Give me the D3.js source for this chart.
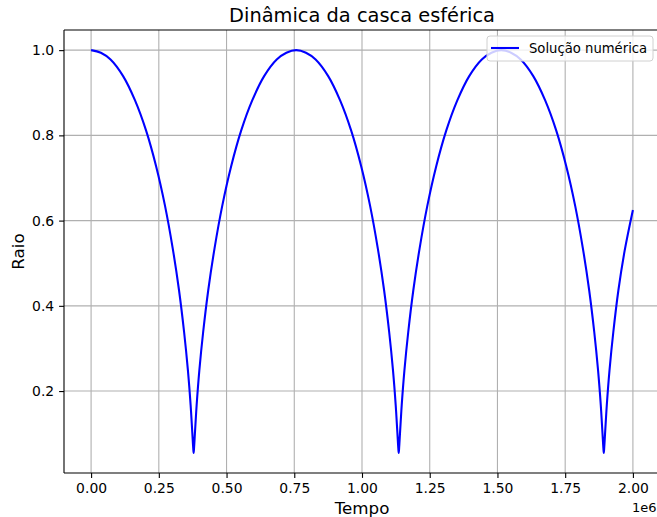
<!DOCTYPE html>
<html><head><meta charset="utf-8">
<script src="https://cdn.jsdelivr.net/npm/d3@7"></script>
<style>
html,body{margin:0;padding:0;background:#fff;overflow:hidden;}
svg{display:block;font-family:"DejaVu Sans",sans-serif;}
</style></head>
<body>
<svg id="chart" width="657" height="517"></svg>
<script>
// Time values in units of 1e6 (offset label "1e6" as in the original)
const tempo = [
  0.0000,0.0361,0.0718,0.1182,0.1622,0.2031,0.2402,0.2731,0.3013,0.3247,0.3434,0.3575,0.3674,0.3738,0.3770,0.3785,
  0.3800,0.3832,0.3896,0.3995,0.4136,0.4323,0.4557,0.4839,0.5168,0.5539,0.5948,0.6388,0.6852,0.7209,0.7570,
  0.7931,0.8288,0.8752,0.9192,0.9601,0.9972,1.0301,1.0583,1.0817,1.1004,1.1145,1.1244,1.1308,1.1340,1.1355,
  1.1370,1.1402,1.1466,1.1565,1.1706,1.1893,1.2127,1.2409,1.2738,1.3109,1.3518,1.3958,1.4422,1.4779,1.5140,
  1.5501,1.5858,1.6322,1.6762,1.7171,1.7542,1.7871,1.8153,1.8387,1.8574,1.8715,1.8814,1.8878,1.8910,1.8925,
  1.8940,1.8972,1.9036,1.9135,1.9276,1.9463,1.9697,2.0000
];
const raio = [
  1.000,0.994,0.978,0.939,0.882,0.811,0.727,0.634,0.535,0.436,0.338,0.248,0.167,0.100,0.066,0.055,
  0.066,0.100,0.167,0.248,0.338,0.436,0.535,0.634,0.727,0.811,0.882,0.939,0.978,0.994,1.000,
  0.994,0.978,0.939,0.882,0.811,0.727,0.634,0.535,0.436,0.338,0.248,0.167,0.100,0.066,0.055,
  0.066,0.100,0.167,0.248,0.338,0.436,0.535,0.634,0.727,0.811,0.882,0.939,0.978,0.994,1.000,
  0.994,0.978,0.939,0.882,0.811,0.727,0.634,0.535,0.436,0.338,0.248,0.167,0.100,0.066,0.055,
  0.066,0.100,0.167,0.248,0.338,0.436,0.530,0.625
];
const xTicks = [0, 0.25, 0.5, 0.75, 1.0, 1.25, 1.5, 1.75, 2.0];
const yTicks = [0.2, 0.4, 0.6, 0.8, 1.0];
const titulo = "Dinâmica da casca esférica";
const xLabel = "Tempo";
const yLabel = "Raio";
const offsetLabel = "1e6";
const legendLabel = "Solução numérica";

const data = tempo.map((t,i)=>({t, r: raio[i]}));
const svg = d3.select("#chart");
const L = 64, R = 660, T = 30, B = 473;

function padded(ext){ const d = ext[1]-ext[0]; return [ext[0]-0.05*d, ext[1]+0.05*d]; }
const x = d3.scaleLinear().domain(padded(d3.extent(tempo))).range([L, R]);
const y = d3.scaleLinear().domain(padded(d3.extent(raio))).range([B, T]);

const textColor = "#000";
// grid
const grid = svg.append("g");
grid.selectAll(".gx").data(xTicks).join("line")
  .attr("x1", d=>x(d)).attr("x2", d=>x(d)).attr("y1", T).attr("y2", B)
  .attr("stroke", "#b0b0b0").attr("stroke-width", 1.1);
grid.selectAll(".gy").data(yTicks).join("line")
  .attr("y1", d=>y(d)).attr("y2", d=>y(d)).attr("x1", L).attr("x2", R)
  .attr("stroke", "#b0b0b0").attr("stroke-width", 1.1);

// line
const line = d3.line().x(d=>x(d.t)).y(d=>y(d.r)).curve(d3.curveCatmullRom.alpha(0.5));
svg.append("path").datum(data).attr("d", line)
  .attr("fill","none").attr("stroke","#0000ff").attr("stroke-width",2.08)
  .attr("stroke-linejoin","round");

// axes
const xAxis = d3.axisBottom(x).tickValues(xTicks).tickFormat(d3.format(".2f")).tickSize(4.9).tickPadding(4.9);
const yAxis = d3.axisLeft(y).tickValues(yTicks).tickFormat(d3.format(".1f")).tickSize(4.9).tickPadding(4.9);
const gx = svg.append("g").attr("transform", `translate(0,${B})`).call(xAxis);
const gy = svg.append("g").attr("transform", `translate(${L},0)`).call(yAxis);
[gx, gy].forEach(g=>{
  g.select(".domain").remove();
  g.selectAll(".tick line").attr("stroke", textColor).attr("stroke-width", 1.1);
  g.selectAll(".tick text").attr("fill", textColor).style("font-size","13.9px").style("font-family","DejaVu Sans");
});

// spines
svg.append("line").attr("x1",L).attr("x2",L).attr("y1",T).attr("y2",B).attr("stroke","#000").attr("stroke-width",1.1);
svg.append("line").attr("x1",L).attr("x2",R).attr("y1",B).attr("y2",B).attr("stroke","#000").attr("stroke-width",1.1);
svg.append("line").attr("x1",L).attr("x2",R).attr("y1",T).attr("y2",T).attr("stroke","#000").attr("stroke-width",1.1);
svg.append("line").attr("x1",R).attr("x2",R).attr("y1",T).attr("y2",B).attr("stroke","#000").attr("stroke-width",1.1);

// title & labels
svg.append("text").attr("x",(L+R)/2).attr("y",22).attr("text-anchor","middle")
  .style("font-size","19.4px").attr("fill",textColor).text(titulo);
svg.append("text").attr("x",(L+R)/2).attr("y",514).attr("text-anchor","middle")
  .style("font-size","16.7px").attr("fill",textColor).text(xLabel);
svg.append("text").attr("transform",`translate(24,${(T+B)/2}) rotate(-90)`).attr("text-anchor","middle")
  .style("font-size","16.7px").attr("fill",textColor).text(yLabel);
svg.append("text").attr("x",632).attr("y",512).attr("text-anchor","start")
  .style("font-size","13px").attr("fill",textColor).text(offsetLabel);

// legend
const lg = svg.append("g");
lg.append("rect").attr("x",487).attr("y",36).attr("width",166).attr("height",25).attr("rx",3)
  .attr("fill","#fff").attr("fill-opacity",0.8).attr("stroke","#d0d0d0").attr("stroke-width",1);
lg.append("line").attr("x1",491).attr("x2",519).attr("y1",48).attr("y2",48)
  .attr("stroke","#0000ff").attr("stroke-width",2.08);
lg.append("text").attr("x",529).attr("y",53).style("font-size","13.2px").attr("fill",textColor).text(legendLabel);
</script>
</body></html>
